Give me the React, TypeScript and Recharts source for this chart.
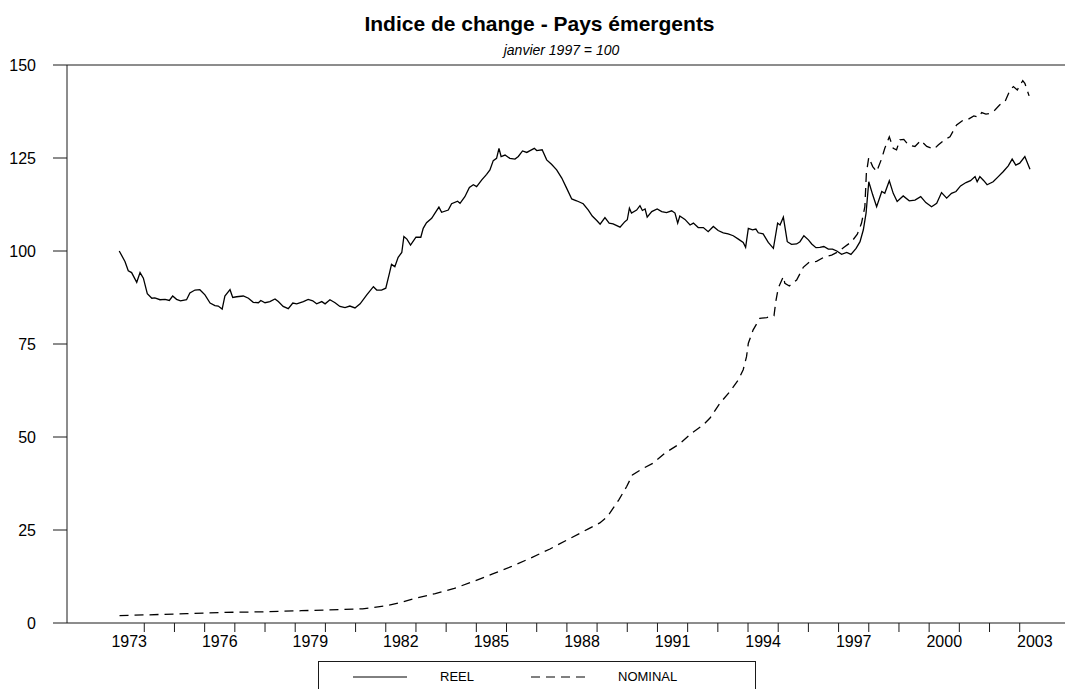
import { LineChart, Line, XAxis, YAxis, ReferenceLine } from "recharts";

// [decimal year, index value], janvier 1997 = 100
const reel: [number, number][] = [
  [1973.17, 100.0], [1973.36, 97.2], [1973.47, 94.7], [1973.58, 94.2], [1973.75, 91.6],
  [1973.86, 94.2], [1973.97, 92.7], [1974.1, 88.5], [1974.25, 87.3], [1974.35, 87.4],
  [1974.52, 86.9], [1974.69, 87.0], [1974.83, 86.7], [1974.94, 87.9], [1975.07, 87.0],
  [1975.2, 86.6], [1975.4, 86.9], [1975.51, 88.7], [1975.68, 89.5], [1975.84, 89.6],
  [1976.01, 88.2], [1976.18, 86.0], [1976.34, 85.3], [1976.45, 85.2], [1976.58, 84.4],
  [1976.67, 87.9], [1976.84, 89.6], [1976.93, 87.5], [1977.06, 87.7], [1977.28, 87.9],
  [1977.45, 87.3], [1977.61, 86.2], [1977.78, 86.1], [1977.86, 86.7], [1978.0, 86.1],
  [1978.16, 86.4], [1978.33, 87.1], [1978.44, 86.4], [1978.6, 85.1], [1978.77, 84.5],
  [1978.92, 86.0], [1979.05, 85.8], [1979.27, 86.4], [1979.43, 87.0], [1979.58, 86.6],
  [1979.71, 85.8], [1979.88, 86.4], [1979.99, 85.8], [1980.15, 86.9], [1980.32, 86.1],
  [1980.48, 85.1], [1980.65, 84.8], [1980.81, 85.2], [1980.98, 84.7], [1981.15, 85.8],
  [1981.37, 88.2], [1981.59, 90.4], [1981.7, 89.5], [1981.86, 89.5], [1982.0, 90.0],
  [1982.12, 94.0], [1982.19, 96.4], [1982.3, 95.8], [1982.41, 98.3], [1982.53, 99.6],
  [1982.6, 103.9], [1982.7, 103.2], [1982.82, 101.6], [1983.0, 103.7], [1983.16, 103.7],
  [1983.24, 106.1], [1983.35, 107.6], [1983.52, 108.8], [1983.63, 110.2], [1983.76, 111.8],
  [1983.85, 110.4], [1984.07, 111.0], [1984.18, 112.7], [1984.38, 113.4], [1984.46, 112.8],
  [1984.62, 114.6], [1984.77, 117.1], [1984.9, 117.8], [1985.01, 117.3], [1985.18, 119.1],
  [1985.34, 120.6], [1985.45, 121.8], [1985.56, 124.3], [1985.67, 124.9], [1985.75, 127.6],
  [1985.82, 125.4], [1985.95, 125.8], [1986.11, 124.9], [1986.28, 124.7], [1986.39, 125.4],
  [1986.53, 126.9], [1986.67, 126.5], [1986.78, 127.0], [1986.92, 127.6], [1987.0, 127.0],
  [1987.18, 127.2], [1987.33, 124.5], [1987.49, 123.3], [1987.66, 121.8], [1987.83, 119.6],
  [1987.99, 116.9], [1988.16, 114.0], [1988.32, 113.5], [1988.54, 112.7], [1988.71, 111.0],
  [1988.84, 109.4], [1988.99, 108.2], [1989.1, 107.2], [1989.26, 109.0], [1989.4, 107.5],
  [1989.53, 107.3], [1989.76, 106.4], [1989.92, 107.9], [1990.0, 108.4], [1990.07, 111.5],
  [1990.14, 110.2], [1990.31, 111.0], [1990.42, 112.2], [1990.5, 110.9], [1990.59, 111.3],
  [1990.66, 109.1], [1990.81, 110.6], [1990.99, 111.3], [1991.14, 110.6], [1991.3, 110.3],
  [1991.47, 110.8], [1991.58, 110.2], [1991.67, 107.5], [1991.74, 109.4], [1991.91, 108.5],
  [1992.08, 107.0], [1992.19, 107.5], [1992.35, 106.3], [1992.52, 106.3], [1992.68, 105.2],
  [1992.85, 106.6], [1993.01, 105.5], [1993.18, 104.9], [1993.34, 104.6], [1993.51, 104.1],
  [1993.68, 103.2], [1993.84, 102.3], [1993.92, 101.0], [1994.01, 106.1], [1994.15, 105.7],
  [1994.26, 105.9], [1994.34, 104.9], [1994.5, 104.6], [1994.67, 102.3], [1994.84, 100.7],
  [1994.98, 107.5], [1995.06, 107.0], [1995.17, 109.1], [1995.3, 102.5], [1995.44, 101.8],
  [1995.61, 101.9], [1995.72, 102.5], [1995.85, 104.1], [1996.0, 103.0], [1996.11, 101.9],
  [1996.25, 100.9], [1996.38, 101.0], [1996.51, 101.2], [1996.66, 100.5], [1996.8, 100.5],
  [1996.94, 100.0], [1997.1, 99.1], [1997.27, 99.6], [1997.41, 99.1], [1997.58, 100.7],
  [1997.71, 102.5], [1997.82, 105.7], [1997.91, 110.2], [1998.0, 118.6], [1998.13, 115.1],
  [1998.26, 111.9], [1998.43, 116.0], [1998.53, 115.5], [1998.68, 118.9], [1998.81, 115.5],
  [1998.94, 113.3], [1999.14, 114.8], [1999.34, 113.5], [1999.53, 113.7], [1999.72, 114.6],
  [1999.89, 113.0], [2000.08, 111.9], [2000.25, 112.8], [2000.41, 115.7], [2000.58, 114.2],
  [2000.74, 115.5], [2000.89, 116.0], [2001.04, 117.5], [2001.22, 118.4], [2001.37, 118.9],
  [2001.52, 120.0], [2001.59, 118.6], [2001.68, 120.0], [2001.81, 118.9], [2001.92, 117.8],
  [2002.12, 118.6], [2002.29, 120.0], [2002.45, 121.3], [2002.62, 122.9], [2002.75, 124.7],
  [2002.87, 123.1], [2003.0, 123.6], [2003.17, 125.4], [2003.34, 122.0],
];

const nominal: [number, number][] = [
  [1973.18, 2.0], [1974.13, 2.2], [1975.4, 2.5], [1976.67, 2.85], [1977.94, 3.0],
  [1979.2, 3.3], [1980.47, 3.6], [1981.23, 3.8], [1981.99, 4.6], [1982.5, 5.5],
  [1983.0, 6.7], [1983.64, 7.9], [1984.27, 9.3], [1984.91, 11.2], [1985.54, 13.2],
  [1986.17, 15.2], [1986.81, 17.5], [1987.44, 19.9], [1988.07, 22.6], [1988.71, 25.3],
  [1989.09, 26.9], [1989.34, 28.6], [1989.72, 33.1], [1989.98, 36.7], [1990.17, 39.8],
  [1990.49, 41.4], [1990.86, 43.0], [1991.25, 45.7], [1991.74, 48.2], [1992.13, 51.0],
  [1992.52, 53.3], [1992.74, 55.1], [1993.07, 59.1], [1993.4, 62.2], [1993.68, 65.4],
  [1993.84, 68.1], [1993.95, 71.6], [1994.01, 75.2], [1994.17, 78.8], [1994.39, 81.9],
  [1994.62, 82.1], [1994.86, 82.6], [1994.92, 86.4], [1995.0, 90.0], [1995.17, 93.1],
  [1995.22, 91.3], [1995.37, 90.6], [1995.61, 92.2], [1995.83, 95.6], [1996.03, 97.0],
  [1996.27, 97.2], [1996.55, 98.5], [1996.77, 98.9], [1996.99, 99.8], [1997.18, 101.0],
  [1997.43, 102.5], [1997.62, 104.5], [1997.76, 107.5], [1997.87, 111.9], [1997.92, 120.9],
  [1998.0, 125.2], [1998.13, 122.7], [1998.26, 121.3], [1998.43, 124.9], [1998.53, 127.6],
  [1998.68, 130.7], [1998.81, 127.6], [1998.92, 127.2], [1999.03, 129.9], [1999.16, 130.0],
  [1999.31, 128.5], [1999.53, 128.1], [1999.72, 129.7], [1999.92, 128.1], [2000.16, 127.4],
  [2000.3, 128.5], [2000.52, 130.0], [2000.69, 130.7], [2000.91, 133.9], [2001.13, 135.2],
  [2001.29, 135.4], [2001.48, 136.3], [2001.63, 136.0], [2001.74, 137.2], [2001.88, 136.8],
  [2002.01, 137.0], [2002.18, 137.9], [2002.34, 139.3], [2002.51, 140.1], [2002.68, 143.3],
  [2002.79, 144.2], [2002.92, 143.3], [2003.1, 145.8], [2003.17, 145.1], [2003.31, 141.7],
];

const yTicks = [0, 25, 50, 75, 100, 125, 150];
const yearTicks = [
  1974, 1975, 1976, 1977, 1978, 1979, 1980, 1981, 1982, 1983, 1984, 1985, 1986, 1987, 1988,
  1989, 1990, 1991, 1992, 1993, 1994, 1995, 1996, 1997, 1998, 1999, 2000, 2001, 2002, 2003,
];
const labelYears = [1973, 1976, 1979, 1982, 1985, 1988, 1991, 1994, 1997, 2000, 2003];

const reelData = reel.map(([t, v]) => ({ t, v }));
const nominalData = nominal.map(([t, v]) => ({ t, v }));
// labels sit in the middle of their year
const labelTicks = labelYears.map((y) => y + 0.5);

const xDomain = [1971.44, 2004.5];
const font = "'Liberation Sans', Arial, Helvetica, sans-serif";
const ink = "#1a1a1a";

export default function App() {
  return (
    <div style={{ position: "absolute", left: 0, top: 0, width: 1071, height: 689, background: "#fff", fontFamily: font }}>
      <div style={{ position: "absolute", left: 0, width: 1071, top: 12, paddingLeft: 4, textAlign: "center", fontWeight: "bold", fontSize: 21, color: "#000" }}>
        Indice de change - Pays émergents
      </div>
      <div style={{ position: "absolute", left: 0, width: 1071, top: 42, paddingLeft: 26, textAlign: "center", fontStyle: "italic", fontSize: 14, color: "#000" }}>
        janvier 1997 = 100
      </div>

      <LineChart width={1071} height={689} margin={{ top: 65, right: 6, bottom: 27, left: 0 }}>
        <XAxis
          dataKey="t"
          type="number"
          domain={xDomain}
          allowDataOverflow
          ticks={yearTicks}
          interval={0}
          height={9}
          tickSize={9}
          tickFormatter={() => ""}
          stroke={ink}
          tickLine={{ stroke: ink }}
          axisLine={{ stroke: ink }}
        />
        <XAxis
          xAxisId="labels"
          dataKey="t"
          type="number"
          domain={xDomain}
          allowDataOverflow
          ticks={labelTicks}
          interval={0}
          height={30}
          tickSize={0}
          tickMargin={4}
          tickLine={false}
          axisLine={false}
          tickFormatter={(v: number) => String(Math.floor(v))}
          tick={{ fill: "#000", fontSize: 16, fontFamily: font }}
        />
        <YAxis
          type="number"
          domain={[0, 150]}
          ticks={yTicks}
          interval={0}
          width={67}
          tickSize={14}
          tickMargin={17}
          stroke={ink}
          tickLine={{ stroke: ink }}
          axisLine={{ stroke: ink }}
          tick={{ fill: "#000", fontSize: 16, fontFamily: font }}
        />
        <ReferenceLine y={150} stroke={ink} />
        <Line
          data={reelData}
          dataKey="v"
          type="linear"
          stroke="#000"
          strokeWidth={1.3}
          dot={false}
          activeDot={false}
          isAnimationActive={false}
        />
        <Line
          data={nominalData}
          dataKey="v"
          type="linear"
          stroke="#000"
          strokeWidth={1.3}
          strokeDasharray="9 6"
          dot={false}
          activeDot={false}
          isAnimationActive={false}
        />
      </LineChart>

      <div style={{ position: "absolute", left: 318, top: 661, width: 438, height: 40, border: `1px solid ${ink}`, borderBottom: "none", boxSizing: "border-box" }}>
        <svg width={438} height={30} style={{ position: "absolute", left: 0, top: 0 }}>
          <line x1={34} x2={88} y1={15} y2={15} stroke="#000" strokeWidth={1} />
          <line x1={212} x2={266} y1={15} y2={15} stroke="#000" strokeWidth={1} strokeDasharray="9 6" />
        </svg>
        <span style={{ position: "absolute", left: 121, top: 7, fontSize: 13, color: "#000" }}>REEL</span>
        <span style={{ position: "absolute", left: 299, top: 7, fontSize: 13, color: "#000" }}>NOMINAL</span>
      </div>
    </div>
  );
}
